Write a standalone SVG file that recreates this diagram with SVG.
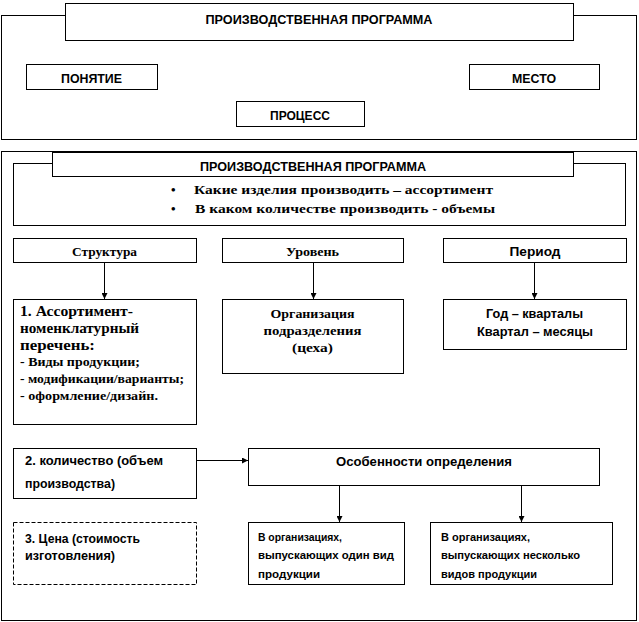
<svg xmlns="http://www.w3.org/2000/svg" width="639" height="622" viewBox="0 0 639 622">
<defs>
<style>
.box{fill:#fff;stroke:#000;stroke-width:1}
.frame{fill:none;stroke:#000;stroke-width:1}
.dash{fill:#fff;stroke:#000;stroke-width:1;stroke-dasharray:4 2}
.s{font-family:"Liberation Sans",Arial,sans-serif;font-weight:bold;fill:#000}
.r{font-family:"Liberation Serif","Times New Roman",serif;font-weight:bold;fill:#000}
.c{text-anchor:middle}
.con{stroke:#000;stroke-width:1;fill:none;marker-end:url(#ah)}
</style>
<marker id="ah" viewBox="0 0 6 6" refX="6" refY="3" markerWidth="6" markerHeight="6" markerUnits="userSpaceOnUse" orient="auto">
<path d="M0,0 L6,3 L0,6 Z" fill="#000"/>
</marker>
</defs>
<rect width="639" height="622" fill="#fff"/>

<g id="section1">
<rect class="frame" x="1.5" y="15.5" width="635" height="124"/>
</g>
<g id="title1">
<rect class="box" x="65.5" y="3.5" width="508" height="37"/>
<text class="s c" x="319" y="24" font-size="12" textLength="227" lengthAdjust="spacingAndGlyphs">ПРОИЗВОДСТВЕННАЯ ПРОГРАММА</text>
</g>
<g id="ponyatie">
<rect class="box" x="26.5" y="64.5" width="131" height="25"/>
<text class="s c" x="91.5" y="83" font-size="12" textLength="61" lengthAdjust="spacingAndGlyphs">ПОНЯТИЕ</text>
</g>
<g id="mesto">
<rect class="box" x="469.5" y="64.5" width="130" height="25"/>
<text class="s c" x="534" y="83" font-size="12" textLength="44" lengthAdjust="spacingAndGlyphs">МЕСТО</text>
</g>
<g id="process">
<rect class="box" x="236.5" y="101.5" width="128" height="25"/>
<text class="s c" x="300" y="120" font-size="12" textLength="60" lengthAdjust="spacingAndGlyphs">ПРОЦЕСС</text>
</g>

<g id="section2">
<rect class="frame" x="1.5" y="151.5" width="635" height="469"/>
</g>
<g id="bullets">
<rect class="box" x="13.5" y="163.5" width="612" height="62"/>
<text class="r" x="171" y="194" font-size="13">•</text>
<text class="r" x="194" y="194" font-size="13" textLength="299" lengthAdjust="spacingAndGlyphs">Какие изделия производить – ассортимент</text>
<text class="r" x="171" y="213" font-size="13">•</text>
<text class="r" x="195" y="213" font-size="13" textLength="300" lengthAdjust="spacingAndGlyphs">В каком количестве производить - объемы</text>
</g>
<g id="title2">
<rect class="box" x="52.5" y="152.5" width="521" height="24"/>
<text class="s c" x="313" y="171" font-size="12" textLength="226" lengthAdjust="spacingAndGlyphs">ПРОИЗВОДСТВЕННАЯ ПРОГРАММА</text>
</g>

<g id="struktura">
<rect class="box" x="13.5" y="238.5" width="183" height="24"/>
<text class="r c" x="104.5" y="256" font-size="13" textLength="65" lengthAdjust="spacingAndGlyphs">Структура</text>
</g>
<g id="uroven">
<rect class="box" x="222.5" y="238.5" width="181" height="24"/>
<text class="r c" x="312.5" y="256" font-size="13" textLength="53" lengthAdjust="spacingAndGlyphs">Уровень</text>
</g>
<g id="period">
<rect class="box" x="443.5" y="238.5" width="183" height="24"/>
<text class="s c" x="535" y="256" font-size="12" textLength="51" lengthAdjust="spacingAndGlyphs">Период</text>
</g>

<g id="assortiment">
<rect class="box" x="13.5" y="299.5" width="183" height="125"/>
<text class="r" x="20" y="316" font-size="14" textLength="113" lengthAdjust="spacingAndGlyphs">1. Ассортимент-</text>
<text class="r" x="20" y="333" font-size="14" textLength="119" lengthAdjust="spacingAndGlyphs">номенклатурный</text>
<text class="r" x="20" y="350" font-size="14" textLength="75" lengthAdjust="spacingAndGlyphs">перечень:</text>
<text class="r" x="20" y="366" font-size="13" textLength="120" lengthAdjust="spacingAndGlyphs">- Виды продукции;</text>
<text class="r" x="20" y="383" font-size="13" textLength="164" lengthAdjust="spacingAndGlyphs">- модификации/варианты;</text>
<text class="r" x="20" y="400" font-size="13" textLength="138" lengthAdjust="spacingAndGlyphs">- оформление/дизайн.</text>
</g>
<g id="organizaciya">
<rect class="box" x="222.5" y="299.5" width="181" height="74"/>
<text class="r c" x="312.5" y="318" font-size="13" textLength="84" lengthAdjust="spacingAndGlyphs">Организация</text>
<text class="r c" x="312.5" y="335" font-size="13" textLength="98" lengthAdjust="spacingAndGlyphs">подразделения</text>
<text class="r c" x="312.5" y="352" font-size="13" textLength="41" lengthAdjust="spacingAndGlyphs">(цеха)</text>
</g>
<g id="god">
<rect class="box" x="443.5" y="299.5" width="183" height="50"/>
<text class="s c" x="534.5" y="318" font-size="12" textLength="97" lengthAdjust="spacingAndGlyphs">Год – кварталы</text>
<text class="s c" x="535" y="336" font-size="12" textLength="116" lengthAdjust="spacingAndGlyphs">Квартал – месяцы</text>
</g>

<g id="kolichestvo">
<rect class="box" x="13.5" y="448.5" width="183" height="50"/>
<text class="s" x="25" y="465" font-size="12" textLength="138" lengthAdjust="spacingAndGlyphs">2. количество (объем</text>
<text class="s" x="25" y="488" font-size="12" textLength="90" lengthAdjust="spacingAndGlyphs">производства)</text>
</g>
<g id="osobennosti">
<rect class="box" x="248.5" y="448.5" width="351" height="37"/>
<text class="s c" x="424" y="466" font-size="12" textLength="176" lengthAdjust="spacingAndGlyphs">Особенности определения</text>
</g>
<g id="cena">
<rect class="dash" x="13.5" y="522.5" width="183" height="62"/>
<text class="s" x="25" y="543" font-size="12" textLength="115" lengthAdjust="spacingAndGlyphs">3. Цена (стоимость</text>
<text class="s" x="25" y="560" font-size="12" textLength="90" lengthAdjust="spacingAndGlyphs">изготовления)</text>
</g>
<g id="odin">
<rect class="box" x="248.5" y="522.5" width="156" height="62"/>
<text class="s" x="258" y="541" font-size="10" textLength="84" lengthAdjust="spacingAndGlyphs">В организациях,</text>
<text class="s" x="258" y="559" font-size="10" textLength="136" lengthAdjust="spacingAndGlyphs">выпускающих один вид</text>
<text class="s" x="258" y="578" font-size="10" textLength="62" lengthAdjust="spacingAndGlyphs">продукции</text>
</g>
<g id="neskolko">
<rect class="box" x="430.5" y="522.5" width="182" height="62"/>
<text class="s" x="441" y="541" font-size="10" textLength="89" lengthAdjust="spacingAndGlyphs">В организациях,</text>
<text class="s" x="441" y="559" font-size="10" textLength="139" lengthAdjust="spacingAndGlyphs">выпускающих несколько</text>
<text class="s" x="441" y="578" font-size="10" textLength="96" lengthAdjust="spacingAndGlyphs">видов продукции</text>
</g>

<g id="connectors">
<line class="con" x1="104.5" y1="263" x2="104.5" y2="299"/>
<line class="con" x1="313.5" y1="263" x2="313.5" y2="299"/>
<line class="con" x1="534.5" y1="263" x2="534.5" y2="299"/>
<line class="con" x1="197" y1="460.5" x2="248" y2="460.5"/>
<line class="con" x1="339.5" y1="486" x2="339.5" y2="522"/>
<line class="con" x1="521.5" y1="486" x2="521.5" y2="522"/>
</g>
</svg>
